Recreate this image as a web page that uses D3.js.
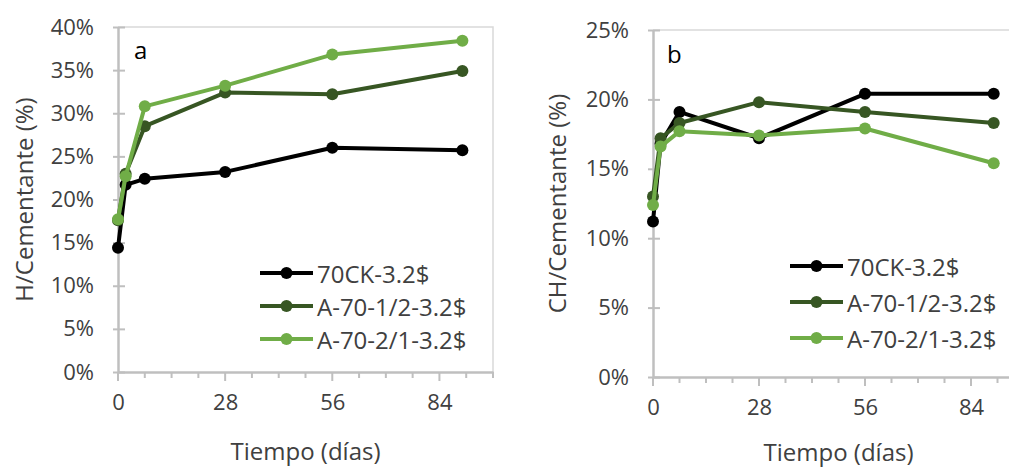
<!DOCTYPE html>
<html>
<head>
<meta charset="utf-8">
<script src="https://cdn.jsdelivr.net/npm/d3@7"></script>
<style>
	body { margin: 0; background: #fff; }
	svg { display: block; font-family: "Open Sans", sans-serif; }
</style>
</head>
<body>
<div id="chart"></div>
<script>
// tiempo de curado (días)
const days = [0, 2, 7, 28, 56, 90];

// panel a: H/Cementante (%)
const h70CK = [14.4, 21.7, 22.4, 23.2, 26.0, 25.7];
const hA12 = [17.6, 23.0, 28.5, 32.4, 32.2, 34.9];
const hA21 = [17.7, 22.7, 30.8, 33.2, 36.8, 38.4];

// panel b: CH/Cementante (%)
const ch70CK = [11.2, 16.8, 19.1, 17.2, 20.4, 20.4];
const chA12 = [13.0, 17.2, 18.3, 19.8, 19.1, 18.3];
const chA21 = [12.4, 16.6, 17.7, 17.4, 17.9, 15.4];

const seriesNames = ["70CK-3.2$", "A-70-1/2-3.2$", "A-70-2/1-3.2$"];
const seriesColors = ["#000000", "#375623", "#70ad47"];
const xTicks = [0, 28, 56, 84];
const xMinorTicks = d3.range(0, 99, 7);

const width = 1009;
const height = 468;

const svg = d3.select("#chart").append("svg")
	.attr("width", width)
	.attr("height", height);

function drawPanel(cfg) {
	const x = d3.scaleLinear().domain([0, 98]).range([cfg.left, cfg.right]);
	const y = d3.scaleLinear().domain([0, cfg.yMax]).range([cfg.bottom, cfg.top]);
	const g = svg.append("g");

	// borde del área de trazado
	g.append("path")
		.attr("d", `M${cfg.left},${cfg.top}H${cfg.right}V${cfg.bottom}`)
		.attr("fill", "none")
		.attr("stroke", "#d9d9d9")
		.attr("stroke-width", 1.5);

	// eje y
	const yAxis = g.append("g").attr("transform", `translate(${cfg.left},0)`)
		.call(d3.axisLeft(y).tickValues(cfg.yTicks).tickSize(0).tickPadding(24)
			.tickFormat((d) => Math.round(d * 100) + "%"));
	yAxis.select(".domain").attr("stroke", "#bfbfbf").attr("stroke-width", 2.5);
	yAxis.selectAll(".tick text")
		.attr("fill", "#404040")
		.style("font-size", "22px")
		.style("font-family", "Open Sans");
	yAxis.selectAll(".tick").append("line")
		.attr("x1", -5).attr("x2", 7)
		.attr("stroke", "#bfbfbf").attr("stroke-width", 2);

	// eje x
	const xAxis = g.append("g").attr("transform", `translate(0,${cfg.bottom})`)
		.call(d3.axisBottom(x).tickValues(xTicks).tickSize(0).tickPadding(22)
			.tickFormat((d) => d));
	xAxis.select(".domain").attr("stroke", "#bfbfbf").attr("stroke-width", 2.5);
	xAxis.selectAll(".tick text")
		.attr("fill", "#404040")
		.style("font-size", "22px")
		.style("font-family", "Open Sans");
	xAxis.selectAll("line.minor")
		.data(xMinorTicks)
		.join("line")
		.attr("class", "minor")
		.attr("x1", (d) => x(d)).attr("x2", (d) => x(d))
		.attr("y1", 0).attr("y2", (d) => (d % 28 === 0 ? 9 : 6))
		.attr("stroke", "#bfbfbf").attr("stroke-width", 2);

	// títulos
	g.append("text")
		.attr("transform", `translate(${cfg.yTitleX},${(cfg.top + cfg.bottom) / 2}) rotate(-90)`)
		.attr("text-anchor", "middle")
		.attr("dominant-baseline", "central")
		.attr("fill", "#404040")
		.style("font-size", "24px")
		.text(cfg.yTitle);

	g.append("text")
		.attr("x", (cfg.left + cfg.right) / 2)
		.attr("y", cfg.xTitleY)
		.attr("text-anchor", "middle")
		.attr("fill", "#404040")
		.style("font-size", "24px")
		.text("Tiempo (días)");

	g.append("text")
		.attr("x", cfg.letterX)
		.attr("y", cfg.letterY)
		.attr("fill", "#000")
		.style("font-size", "24px")
		.text(cfg.letter);

	// series
	const line = d3.line()
		.x((d) => x(d[0]))
		.y((d) => y(d[1] / 100));

	cfg.series.forEach((vals, i) => {
		const pts = days.map((d, j) => [d, vals[j]]);
		g.append("path")
			.datum(pts)
			.attr("fill", "none")
			.attr("stroke", seriesColors[i])
			.attr("stroke-width", 4)
			.attr("stroke-linejoin", "round")
			.attr("d", line);
		g.selectAll(null)
			.data(pts)
			.join("circle")
			.attr("cx", (d) => x(d[0]))
			.attr("cy", (d) => y(d[1] / 100))
			.attr("r", 6)
			.attr("fill", seriesColors[i]);
	});

	// leyenda
	const leg = g.append("g");
	seriesNames.forEach((name, i) => {
		const ly = cfg.legY + i * cfg.legStep;
		leg.append("line")
			.attr("x1", cfg.legX).attr("x2", cfg.legX + 53)
			.attr("y1", ly).attr("y2", ly)
			.attr("stroke", seriesColors[i])
			.attr("stroke-width", 4);
		leg.append("circle")
			.attr("cx", cfg.legX + 26.5).attr("cy", ly)
			.attr("r", 6)
			.attr("fill", seriesColors[i]);
		leg.append("text")
			.attr("x", cfg.legX + 57)
			.attr("y", ly)
			.attr("dominant-baseline", "central")
			.attr("fill", "#404040")
			.style("font-size", "24px")
			.text(name);
	});
}

drawPanel({
	left: 118, right: 493, top: 27, bottom: 372,
	yMax: 0.4, yTicks: d3.range(0, 0.401, 0.05),
	series: [h70CK, hA12, hA21],
	yTitle: "H/Cementante (%)", yTitleX: 23, xTitleY: 460,
	letter: "a", letterX: 134, letterY: 59,
	legX: 260, legY: 273, legStep: 33
});

drawPanel({
	left: 653, right: 1024, top: 30, bottom: 377,
	yMax: 0.25, yTicks: d3.range(0, 0.251, 0.05),
	series: [ch70CK, chA12, chA21],
	yTitle: "CH/Cementante (%)", yTitleX: 556, xTitleY: 461,
	letter: "b", letterX: 667, letterY: 63,
	legX: 790, legY: 266, legStep: 36
});
</script>
</body>
</html>
